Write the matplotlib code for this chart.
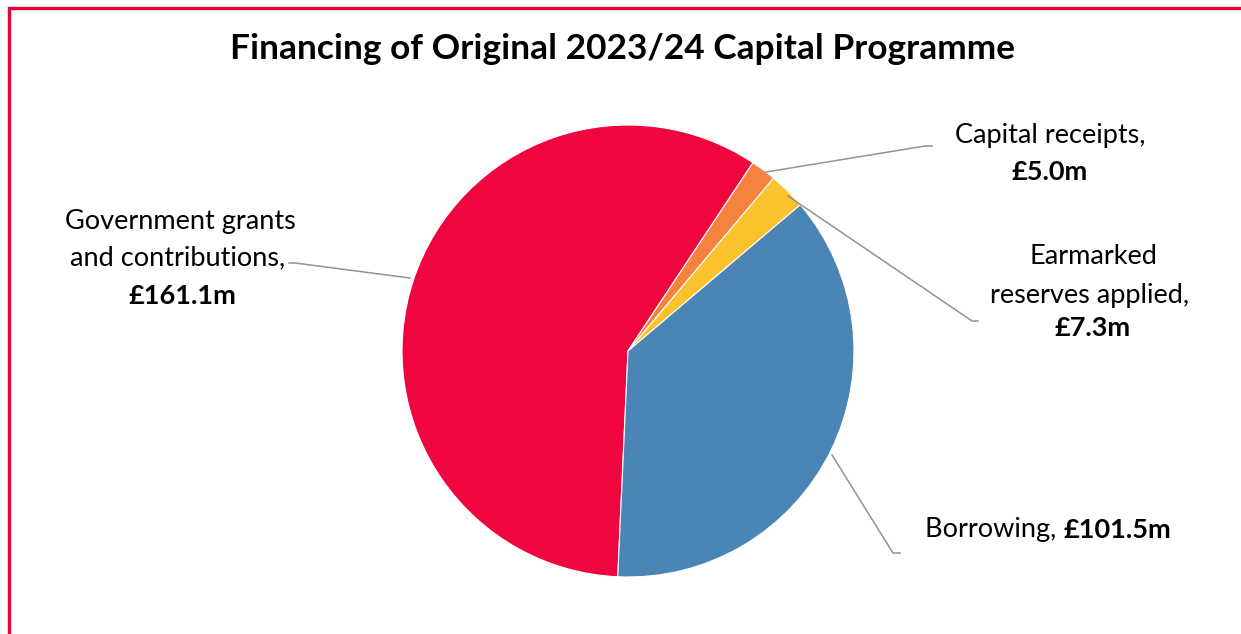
import matplotlib.pyplot as plt
from matplotlib.patches import Rectangle

# Financing sources (£m), in drawing order (clockwise)
sources = ["Government grants and contributions", "Capital receipts",
           "Earmarked reserves applied", "Borrowing"]
values = [161.1, 5.0, 7.3, 101.5]
colors = ["#F0063F", "#F5823F", "#FAC22C", "#4A85B6"]

W, H = 1241, 634
FONT = "Lato"

fig = plt.figure(figsize=(W / 100, H / 100), dpi=100)
fig.patch.set_facecolor("white")

# red frame (right/bottom edges run off the picture)
fig.patches.append(Rectangle((9 / W, -0.05), 1.1, 1 - 8 / H + 0.05,
                             transform=fig.transFigure, fill=False,
                             edgecolor="#E8003A", linewidth=2.4))

def px(x, y):
    return x / W, 1 - y / H

cx, cy, r = 628, 351, 226
ax = fig.add_axes([(cx - r) / W, 1 - (cy + r) / H, 2 * r / W, 2 * r / H])
ax.pie(values, colors=colors, startangle=-92.6, counterclock=False,
       wedgeprops=dict(edgecolor="white", linewidth=0.8))
ax.set_xlim(-1, 1)
ax.set_ylim(-1, 1)
ax.set_aspect("equal")
ax.axis("off")

fig.text(*px(623, 49), "Financing of Original 2023/24 Capital Programme",
         ha="center", va="center", fontsize=25.4, fontweight="bold",
         family=FONT)

# leader lines (figure pixels)
leaders = [
    [(766, 172), (925, 146), (932, 146)],
    [(788, 196), (972, 321), (978, 321)],
    [(410, 278), (295, 263), (289, 263)],
    [(832, 455), (893, 553), (900, 553)],
]
for pts in leaders:
    xs = [p[0] / W for p in pts]
    ys = [1 - p[1] / H for p in pts]
    fig.add_artist(plt.Line2D(xs, ys, color="#939393", linewidth=1.1,
                              transform=fig.transFigure))

fs = 19.5
def label(x, y, s, bold=False, ha="center"):
    fig.text(*px(x, y), s, ha=ha, va="center", fontsize=fs, family=FONT,
             fontweight="bold" if bold else "normal")

label(1050, 135, "Capital receipts,")
label(1050, 172, "£%.1fm" % values[1], bold=True)

label(1093, 257, "Earmarked")
label(1090, 295, "reserves applied,")
label(1093, 328, "£%.1fm" % values[2], bold=True)

label(180, 221, "Government grants")
label(178, 258, "and contributions,")
label(182, 296, "£%.1fm" % values[0], bold=True)

t = fig.text(*px(925, 530), "Borrowing, ", ha="left", va="center",
             fontsize=fs, family=FONT)
fig.canvas.draw()
bb = t.get_window_extent()
fig.text(bb.x1 / W, 1 - 530 / H, "£%.1fm" % values[3], ha="left",
         va="center", fontsize=fs, family=FONT, fontweight="bold")

fig.savefig("out.png", dpi=100)
